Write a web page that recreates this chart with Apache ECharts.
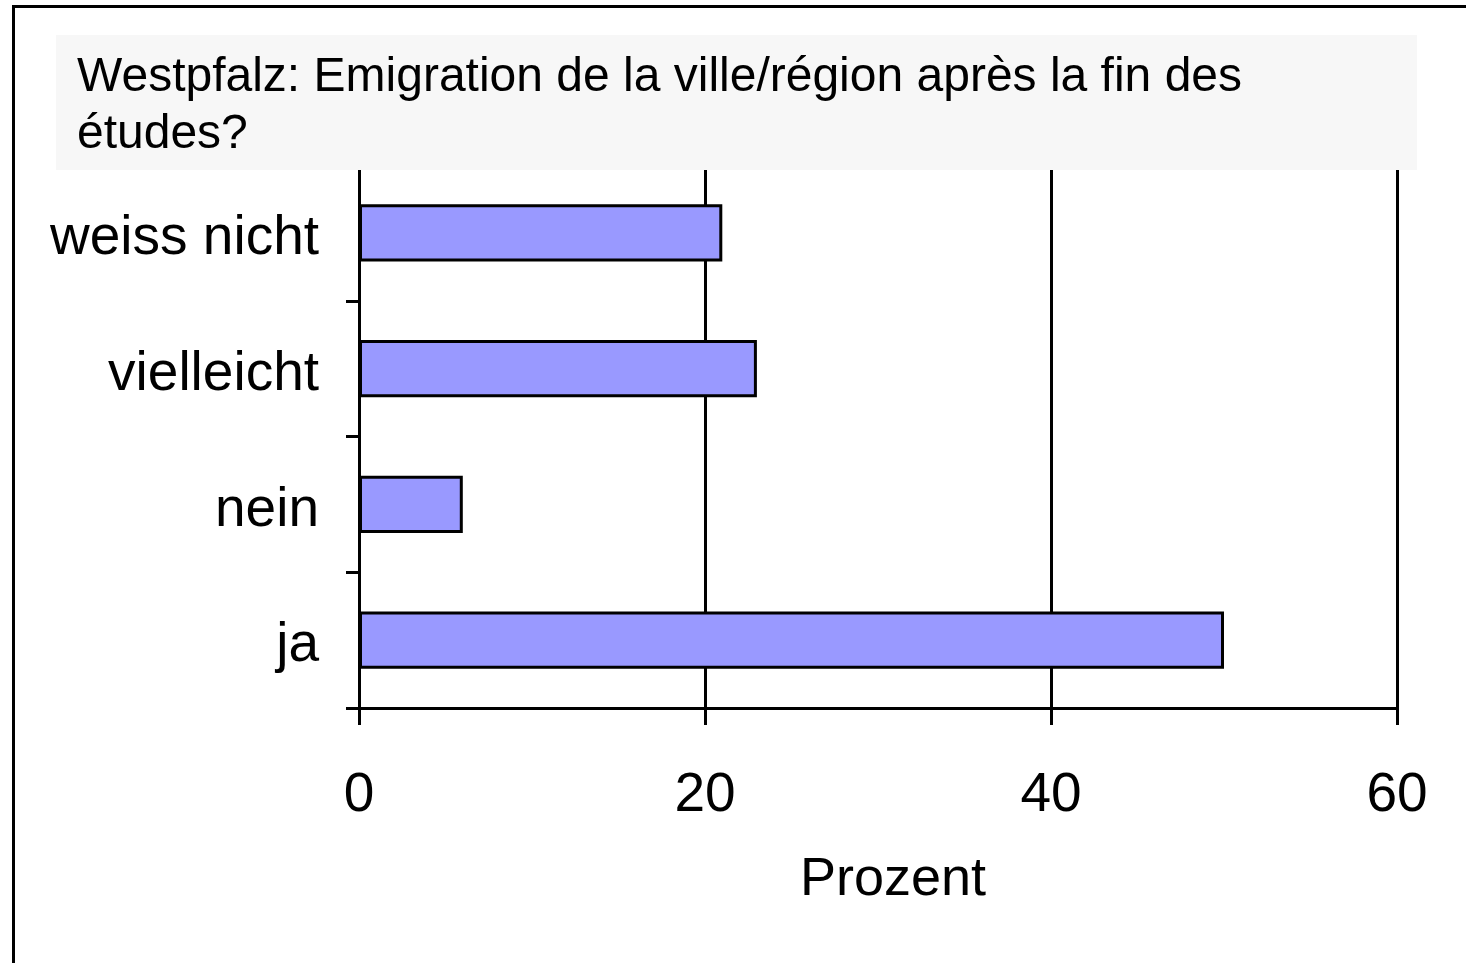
<!DOCTYPE html>
<html>
<head>
<meta charset="utf-8">
<script src="https://cdn.jsdelivr.net/npm/echarts@6/dist/echarts.min.js"></script>
<style>
  html, body {margin: 0; padding: 0; background: #fff;}
  #main {width: 1466px; height: 963px;}
</style>
</head>
<body>
<div id="main"></div>
<script>
const categories = ['ja', 'nein', 'vielleicht', 'weiss nicht'];
const values = [50, 6, 23, 21];
const xTicks = [0, 20, 40, 60];

const chartDom = document.getElementById('main');
const myChart = echarts.init(chartDom);
let option;

const font = '"Liberation Sans", Arial, sans-serif';

option = {
    backgroundColor: '#fff',
    animation: false,
    title: {
        text: 'Westpfalz: Emigration de la ville/région après la fin des\nétudes?',
        left: 72,
        top: 44,
        z: 100,
        textStyle: {
            fontFamily: font,
            fontWeight: 'normal',
            fontSize: 48,
            lineHeight: 57,
            color: '#000'
        }
    },
    graphic: [
        {
            type: 'rect',
            z: 90,
            shape: {x: 13.5, y: 6.5, width: 1600, height: 1100},
            style: {fill: 'none', stroke: '#000', lineWidth: 3}
        },
        {
            type: 'rect',
            z: 95,
            shape: {x: 56, y: 35, width: 1361, height: 135},
            style: {fill: '#f7f7f7'}
        }
    ],
    grid: {
        left: 359,
        top: 165,
        width: 1038,
        height: 543,
        containLabel: false
    },
    xAxis: {
        type: 'value',
        min: 0,
        max: 60,
        interval: 20,
        name: 'Prozent',
        nameLocation: 'middle',
        nameGap: 145,
        nameTextStyle: {
            fontFamily: font,
            fontSize: 54,
            color: '#000',
            padding: [0, 0, 0, 30]
        },
        axisLine: {show: true, lineStyle: {color: '#000', width: 3}},
        axisTick: {show: true, length: 17, lineStyle: {color: '#000', width: 3}},
        axisLabel: {
            fontFamily: font,
            fontSize: 55,
            color: '#000',
            margin: 60,
            formatter: v => xTicks.includes(v) ? String(v) : ''
        },
        splitLine: {show: true, lineStyle: {color: '#000', width: 3}}
    },
    yAxis: {
        type: 'category',
        data: categories,
        axisLine: {show: true, lineStyle: {color: '#000', width: 3}},
        axisTick: {show: true, length: 13, lineStyle: {color: '#000', width: 3}},
        axisLabel: {
            margin: 40,
            formatter: v => '{c|' + v + '}',
            rich: {
                c: {
                    fontFamily: font,
                    fontSize: 55,
                    color: '#000',
                    padding: [12, 0, 0, 0]
                }
            }
        },
        splitLine: {show: false}
    },
    series: [
        {
            type: 'bar',
            data: values,
            barWidth: '42%',
            itemStyle: {
                color: '#9999ff',
                borderColor: '#000',
                borderWidth: 3
            }
        }
    ]
};

option && myChart.setOption(option);
</script>
</body>
</html>
